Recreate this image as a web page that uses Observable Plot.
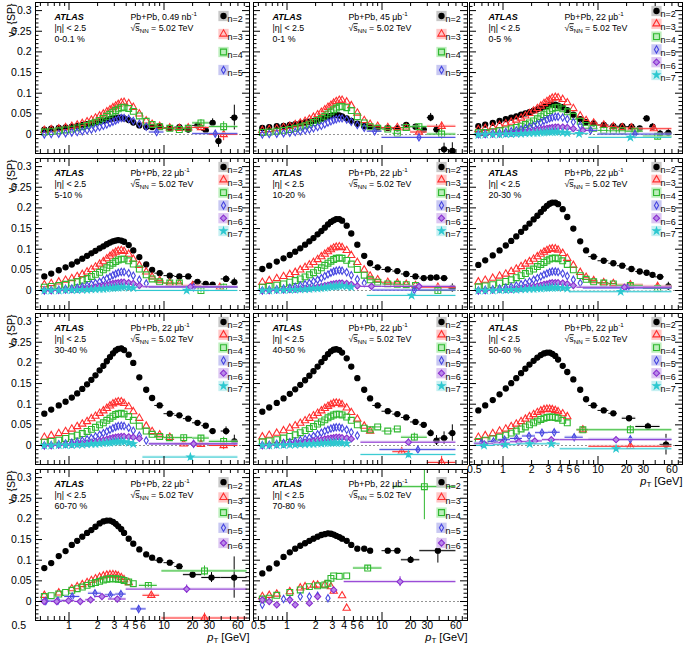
<!DOCTYPE html>
<html><head><meta charset="utf-8">
<script src="https://cdn.jsdelivr.net/npm/d3@7"></script>
<script src="https://cdn.jsdelivr.net/npm/@observablehq/plot@0.6"></script>
<style>
html,body{margin:0;padding:0;background:#fff;}
#chart{position:relative;width:685px;height:647px;font-family:"Liberation Sans",Arial,Helvetica,sans-serif;}
#chart svg{position:absolute;overflow:visible;}
</style></head><body><div id="chart"></div>
<script>
// ---------------- DATA ----------------
const ptBins = [0.55,0.65,0.78,0.92,1.07,1.22,1.38,1.55,1.72,1.9,2.1,2.3,2.5,2.7,2.9,3.1,3.3,3.55,3.8,4.25,4.75,5.5,6.5,7.5,9,11.5,14.5,18,22.5,27.5,32.5,37.5,45,55];
const ptEdges = [0.5,0.6,0.7,0.85,1.0,1.15,1.3,1.47,1.63,1.81,2.0,2.2,2.4,2.6,2.8,3.0,3.2,3.4,3.7,4.0,4.5,5.0,6.0,7.0,8.0,10,13,16,20,25,30,35,40,50,60];
const centralities = ["0-0.1 %","0-1 %","0-5 %","5-10 %","10-20 %","20-30 %","30-40 %","40-50 %","50-60 %","60-70 %","70-80 %"];
const lumis = ["Pb+Pb, 0.49 nb-1","Pb+Pb, 45 \u03bcb-1","Pb+Pb, 22 \u03bcb-1","Pb+Pb, 22 \u03bcb-1","Pb+Pb, 22 \u03bcb-1","Pb+Pb, 22 \u03bcb-1","Pb+Pb, 22 \u03bcb-1","Pb+Pb, 22 \u03bcb-1","Pb+Pb, 22 \u03bcb-1","Pb+Pb, 22 \u03bcb-1","Pb+Pb, 22 \u03bcb-1"];
const harmonicSets = [[2,3,4,5],[2,3,4,5],[2,3,4,5,6,7],[2,3,4,5,6,7],[2,3,4,5,6,7],[2,3,4,5,6,7],[2,3,4,5,6,7],[2,3,4,5,6,7],[2,3,4,5,6,7],[2,3,4,5,6],[2,3,4,5,6]];
const yMajor = [0,0.05,0.1,0.15,0.2,0.25,0.3];
const xMajor = [1,10];
const xMinor = [0.5,0.6,0.7,0.8,0.9,2,3,4,5,6,7,8,9,20,30,40,50,60,70];
const xLabels = [0.5,1,2,3,4,5,6,10,20,30,60];

// wide entries: [n, ptLow, ptHigh, value, error]
// 0-0.1 %
const A_v2 = [0.012,0.014,0.016,0.017,0.019,0.021,0.023,0.025,0.027,0.029,0.031,0.033,0.035,0.037,0.039,0.040,0.041,0.041,0.039,0.035,0.029,0.022,0.018,0.018,0.020,0.016,0.018,0.012,0.022,0.010,0.028,-0.016,null,0.041];
const A_e2 = [0.002,0.003,0.003,0.004,0.006,0.008,0.010,0.015,0,0.030];
const A_v3 = [0.010,0.012,0.014,0.017,0.020,0.023,0.027,0.031,0.035,0.040,0.045,0.050,0.055,0.060,0.065,0.069,0.073,0.077,0.078,0.075,0.066,0.050,0.033,0.025,0.020,0.016,0.015,0.016];
const A_v4 = [0.006,0.007,0.009,0.011,0.013,0.016,0.019,0.022,0.026,0.030,0.034,0.039,0.044,0.049,0.054,0.058,0.062,0.065,0.066,0.063,0.056,0.045,0.032,0.024,0.019,0.015,0.012,0.015];
const A_v5 = [0.000,0.001,0.002,0.003,0.005,0.006,0.008,0.010,0.012,0.015,0.018,0.021,0.024,0.028,0.031,0.034,0.037,0.040,0.040,0.038,0.033,0.026,0.019];
const A_wide = [[3,20,30,0.017,0.006],[3,30,60,0.000,0.015],[4,20,30,0.028,0.008],[4,30,60,0.019,0.012],[5,7,10,0.006,0.003],[5,20,60,0.002,0.008]];
// 0-1 %
const B_v2 = [0.016,0.018,0.020,0.021,0.023,0.025,0.027,0.029,0.031,0.033,0.036,0.038,0.041,0.043,0.045,0.047,0.047,0.046,0.044,0.039,0.033,0.026,0.020,0.017,0.016,0.016,0.015,0.023,0.019,0.012,0.041,0.012,-0.036,-0.040];
const B_e2 = [0.001,0.002,0.002,0.003,0.004,0.005,0.010,0.012,0.015,0.020];
const B_v3 = [0.010,0.012,0.014,0.017,0.020,0.024,0.028,0.032,0.037,0.042,0.048,0.054,0.060,0.066,0.071,0.076,0.080,0.083,0.083,0.079,0.070,0.052,0.034,0.025,0.020,0.017,0.017,0.016];
const B_v4 = [0.005,0.006,0.008,0.010,0.012,0.015,0.018,0.021,0.025,0.029,0.034,0.039,0.044,0.050,0.055,0.060,0.064,0.067,0.068,0.065,0.058,0.043,0.028,0.019,0.015,0.013,0.003,0.017];
const B_v5 = [0.000,0.001,0.002,0.003,0.004,0.006,0.008,0.010,0.012,0.015,0.018,0.021,0.025,0.029,0.032,0.035,0.037,0.039,0.039,0.036,0.031,0.023,0.016];
const B_wide = [[3,20,30,0.006,0.005],[3,30,60,0.020,0.010],[4,20,30,0.019,0.006],[4,30,60,0.001,0.012],[5,7,10,0.008,0.003],[5,10,60,-0.007,0.006]];
// 0-5 %
const C_v2 = [0.020,0.024,0.028,0.033,0.037,0.041,0.044,0.048,0.051,0.054,0.058,0.061,0.064,0.067,0.069,0.071,0.072,0.072,0.070,0.066,0.059,0.048,0.037,0.030,0.027,0.023,0.020,0.020,0.019,0.015,0.039,0.019,0.002,0.004];
const C_e2 = [0.001,0.001,0.002,0.002,0.003,0.004,0.006,0.007,0.008,0.010];
const C_v3 = [0.012,0.015,0.018,0.022,0.026,0.030,0.035,0.040,0.045,0.051,0.057,0.063,0.069,0.075,0.080,0.084,0.088,0.090,0.089,0.085,0.077,0.063,0.045,0.034,0.028,0.023,0.019,0.017,0.016];
const C_v4 = [0.004,0.005,0.007,0.009,0.011,0.014,0.017,0.020,0.024,0.028,0.033,0.038,0.043,0.048,0.053,0.058,0.062,0.065,0.066,0.062,0.055,0.044,0.032,0.022,0.015,0.010,0.009,0.009];
const C_v5 = [0.001,0.002,0.003,0.004,0.006,0.008,0.010,0.012,0.015,0.018,0.021,0.025,0.029,0.033,0.036,0.039,0.041,0.043,0.043,0.041,0.037,0.030,0.022];
const C_v6 = [0.000,0.000,0.001,0.001,0.002,0.003,0.004,0.005,0.006,0.008,0.009,0.011,0.012,0.014,0.015,0.016,0.017,0.018,0.018,0.018,0.017,0.014];
const C_v7 = [-0.001,0.000,0.000,0.000,0.001,0.001,0.002,0.002,0.003,0.003,0.004,0.004,0.005,0.005,0.006,0.006,0.006,0.006,0.006,0.005,0.004];
const C_wide = [[3,25,60,0.014,0.006],[4,20,30,0.008,0.004],[4,30,60,-0.004,0.008],[5,7,10,0.010,0.003],[5,10,60,0.001,0.005],[6,6,8,0.010,0.004],[7,5,8,0.002,0.003],[7,8,60,-0.007,0.006]];
// 5-10 %
const D_v2 = [0.034,0.041,0.049,0.056,0.063,0.070,0.077,0.084,0.090,0.096,0.102,0.107,0.112,0.116,0.119,0.121,0.122,0.121,0.118,0.110,0.097,0.081,0.063,0.050,0.042,0.036,0.034,0.034,0.021,0.016,0.014,null,0.028,0.020];
const D_e2 = [0.001,0.001,0.002,0.002,0.003,0.004,0.005,0,0.008,0.010];
const D_v3 = [0.014,0.017,0.021,0.025,0.029,0.034,0.039,0.045,0.051,0.057,0.064,0.070,0.077,0.083,0.089,0.093,0.096,0.097,0.095,0.088,0.076,0.061,0.045,0.033,0.024,0.018,0.016];
const D_v4 = [0.008,0.010,0.012,0.015,0.018,0.021,0.025,0.029,0.034,0.039,0.044,0.050,0.055,0.061,0.066,0.070,0.074,0.076,0.076,0.072,0.064,0.052,0.038,0.028,0.021,0.018,0.018];
const D_v5 = [0.000,0.001,0.002,0.004,0.005,0.007,0.009,0.012,0.015,0.018,0.021,0.025,0.029,0.033,0.037,0.040,0.043,0.045,0.045,0.042,0.036,0.026,0.017];
const D_v6 = [0.000,0.000,0.001,0.001,0.002,0.003,0.004,0.005,0.006,0.008,0.010,0.011,0.013,0.015,0.017,0.018,0.019,0.020,0.020,0.019,0.017,0.012];
const D_v7 = [0.000,0.000,0.000,0.001,0.001,0.001,0.002,0.002,0.003,0.003,0.004,0.004,0.005,0.006,0.006,0.007,0.007,0.008,0.008,0.007,0.006];
const D_wide = [[3,16,25,0.012,0.005],[3,25,60,0.008,0.006],[4,20,30,0.000,0.006],[4,30,60,0.008,0.008],[5,7,60,0.008,0.004],[6,6,60,0.009,0.004],[7,5,60,0.000,0.004]];
// 10-20 %
const E_v2 = [0.052,0.060,0.070,0.078,0.086,0.094,0.102,0.111,0.119,0.127,0.136,0.144,0.152,0.160,0.166,0.170,0.173,0.173,0.169,0.157,0.138,0.111,0.084,0.066,0.056,0.051,0.047,0.040,0.034,0.030,0.031,0.032,0.030,0.006];
const E_e2 = [0.001,0.001,0.002,0.002,0.002,0.003,0.004,0.005,0.006,0.010];
const E_v3 = [0.020,0.024,0.029,0.034,0.039,0.044,0.050,0.056,0.062,0.068,0.075,0.082,0.088,0.094,0.099,0.103,0.105,0.106,0.104,0.097,0.085,0.068,0.050,0.035,0.026,0.020,0.018,0.015,0.012];
const E_v4 = [0.008,0.010,0.013,0.016,0.020,0.024,0.028,0.033,0.038,0.043,0.049,0.055,0.061,0.066,0.071,0.075,0.078,0.079,0.078,0.073,0.064,0.051,0.037,0.026,0.020,0.016,0.015,0.014,0.012];
const E_v5 = [0.000,0.002,0.003,0.005,0.007,0.009,0.012,0.015,0.018,0.022,0.026,0.030,0.035,0.039,0.043,0.046,0.048,0.049,0.048,0.044,0.037,0.027,0.018];
const E_v6 = [0.000,0.000,0.001,0.001,0.002,0.003,0.004,0.005,0.006,0.007,0.009,0.010,0.012,0.013,0.015,0.016,0.017,0.018,0.018,0.017,0.015,0.011];
const E_v7 = [0.000,0.000,0.001,0.001,0.002,0.002,0.003,0.003,0.004,0.005,0.005,0.006,0.007,0.008,0.009,0.010,0.010,0.011,0.011,0.010,0.008];
const E_wide = [[3,25,60,0.008,0.006],[4,25,60,0.000,0.008],[5,8,60,0.001,0.004],[6,6,10,0.010,0.004],[6,10,60,0.010,0.006],[7,7,60,-0.012,0.006]];
// 20-30 %
const F_v2 = [0.062,0.073,0.085,0.097,0.109,0.120,0.131,0.142,0.152,0.162,0.172,0.181,0.190,0.198,0.205,0.210,0.213,0.213,0.209,0.197,0.178,0.150,0.119,0.097,0.082,0.072,0.066,0.060,0.052,0.046,0.043,0.038,0.033,0.010];
const F_e2 = [0.001,0.001,0.001,0.002,0.002,0.003,0.004,0.005,0.006,0.010];
const F_v3 = [0.021,0.025,0.030,0.035,0.040,0.046,0.052,0.058,0.064,0.070,0.076,0.082,0.088,0.093,0.097,0.100,0.101,0.101,0.098,0.090,0.078,0.061,0.044,0.032,0.024,0.019,0.017];
const F_v4 = [0.009,0.011,0.014,0.018,0.022,0.026,0.031,0.036,0.041,0.047,0.052,0.058,0.063,0.068,0.072,0.076,0.078,0.079,0.077,0.072,0.063,0.050,0.036,0.027,0.021,0.018,0.016];
const F_v5 = [0.000,0.002,0.003,0.005,0.007,0.009,0.012,0.015,0.018,0.022,0.026,0.030,0.034,0.038,0.041,0.044,0.046,0.046,0.045,0.041,0.035,0.026,0.018];
const F_v6 = [0.000,0.000,0.001,0.002,0.002,0.003,0.004,0.005,0.007,0.008,0.010,0.011,0.013,0.015,0.016,0.018,0.019,0.019,0.019,0.018,0.016,0.012];
const F_v7 = [0.000,0.000,0.000,0.001,0.001,0.002,0.002,0.003,0.003,0.004,0.004,0.005,0.005,0.006,0.006,0.007,0.007,0.007,0.007,0.006,0.005];
const F_wide = [[3,16,30,0.014,0.005],[3,30,60,0.010,0.008],[4,16,30,0.012,0.006],[4,30,60,0.005,0.008],[5,7,60,0.006,0.004],[6,6,60,0.008,0.005],[7,5,60,-0.003,0.005]];
// 30-40 %
const G_v2 = [0.077,0.087,0.097,0.106,0.116,0.126,0.137,0.148,0.159,0.170,0.182,0.193,0.204,0.214,0.223,0.230,0.234,0.235,0.231,0.220,0.200,0.165,0.135,0.115,0.097,0.077,0.073,0.065,0.055,0.048,0.035,null,0.035,0.010];
const G_e2 = [0.001,0.001,0.002,0.002,0.003,0.004,0.005,0,0.010,0.015];
const G_v3 = [0.020,0.024,0.029,0.034,0.040,0.046,0.052,0.058,0.065,0.071,0.078,0.084,0.090,0.096,0.101,0.104,0.106,0.106,0.102,0.094,0.082,0.066,0.047,0.034,0.026,0.020];
const G_v4 = [0.008,0.010,0.013,0.017,0.021,0.025,0.029,0.034,0.039,0.044,0.050,0.055,0.061,0.066,0.071,0.075,0.077,0.078,0.076,0.070,0.061,0.047,0.035,0.027,0.022];
const G_v5 = [0.000,0.001,0.003,0.005,0.007,0.009,0.012,0.015,0.018,0.022,0.026,0.030,0.034,0.038,0.042,0.045,0.047,0.048,0.047,0.043,0.036,0.024,0.012];
const G_v6 = [0.000,0.000,0.001,0.002,0.003,0.004,0.005,0.006,0.008,0.009,0.011,0.013,0.015,0.017,0.019,0.020,0.021,0.022,0.022,0.021,0.020,0.017];
const G_v7 = [0.000,0.000,0.001,0.001,0.001,0.002,0.002,0.003,0.004,0.004,0.005,0.006,0.007,0.007,0.008,0.009,0.009,0.010,0.009,0.007,0.004];
const G_wide = [[3,13,20,0.004,0.005],[3,20,30,0.003,0.006],[3,30,60,0.000,0.010],[4,10,13,0.019,0.004],[4,13,20,0.019,0.005],[4,20,30,0.018,0.006],[4,30,60,0.010,0.010],[5,7,60,0.004,0.005],[6,7,60,0.004,0.006],[7,6,60,-0.028,0.008]];
// 40-50 %
const H_v2 = [0.082,0.092,0.103,0.114,0.125,0.136,0.147,0.158,0.169,0.180,0.191,0.202,0.212,0.221,0.228,0.232,0.233,0.231,0.225,0.211,0.191,0.163,0.135,0.114,0.097,0.083,0.076,0.068,0.057,0.050,0.030,0.012,0.018,0.030];
const H_e2 = [0.001,0.002,0.002,0.003,0.004,0.005,0.008,0.012,0.015,0.020];
const H_v3 = [0.021,0.025,0.030,0.036,0.042,0.048,0.054,0.060,0.066,0.072,0.078,0.084,0.090,0.095,0.099,0.102,0.103,0.102,0.099,0.091,0.080,0.064,0.047,0.035];
const H_v4 = [0.009,0.011,0.014,0.018,0.022,0.026,0.031,0.036,0.041,0.046,0.052,0.057,0.062,0.067,0.071,0.074,0.076,0.076,0.074,0.069,0.061,0.050,0.042,0.038,0.045,0.035,0.040];
const H_v5 = [0.001,0.002,0.004,0.006,0.008,0.010,0.013,0.016,0.019,0.023,0.027,0.031,0.035,0.038,0.041,0.043,0.044,0.044,0.042,0.038,0.032,0.024];
const H_v6 = [0.000,0.001,0.002,0.003,0.004,0.005,0.006,0.008,0.009,0.011,0.013,0.014,0.016,0.017,0.018,0.019,0.020,0.020,0.019,0.018,0.016];
const H_v7 = [0.000,0.000,0.001,0.001,0.002,0.002,0.003,0.003,0.004,0.004,0.005,0.005,0.006,0.006,0.007,0.007,0.007,0.007,0.006,0.005];
const H_wide = [[3,13,20,-0.015,0.008],[3,30,60,-0.041,0.015],[4,16,30,0.020,0.010],[5,9.5,60,-0.010,0.006],[6,6,60,0.008,0.008],[7,6,60,-0.022,0.008]];
// 50-60 %
const I_v2 = [0.085,0.097,0.110,0.124,0.138,0.151,0.163,0.175,0.186,0.196,0.205,0.213,0.219,0.223,0.225,0.225,0.222,0.217,0.208,0.193,0.178,0.160,0.135,0.112,0.097,0.085,0.078];
const I_v3 = [0.020,0.024,0.029,0.035,0.040,0.046,0.052,0.058,0.064,0.070,0.075,0.080,0.084,0.087,0.088,0.088,0.087,0.085,0.082,0.077,0.070];
const I_v4 = [0.010,0.013,0.016,0.020,0.025,0.030,0.035,0.040,0.045,0.050,0.055,0.059,0.063,0.066,0.068,0.069,0.069,0.068,0.066,0.061,0.055];
const I_wide = [[2,18,25,0.066,0.004],[2,25,45,0.046,0.008],[2,45,60,0.002,0.025],
  [3,6,8,0.038,0.005],[3,8,60,-0.002,0.006],[4,6,8,0.038,0.005],[4,8,60,0.038,0.010],
  [5,0.5,0.7,0.006,0.003],[5,0.7,0.9,0.010,0.003],[5,0.9,1.2,0.014,0.003],[5,1.2,1.6,0.017,0.003],[5,1.6,2.2,0.023,0.003],[5,2.2,3.0,0.031,0.004],[5,3.0,4.0,0.032,0.004],[5,4.5,7,0.020,0.005],[5,8,60,0.015,0.006],
  [6,0.5,0.8,0.004,0.003],[6,0.8,1.2,0.006,0.003],[6,1.2,1.8,0.009,0.003],[6,1.8,2.6,0.011,0.004],[6,2.6,4,0.014,0.004],[6,4,60,0.014,0.006],
  [7,0.5,0.8,0.000,0.003],[7,0.8,1.4,0.002,0.003],[7,1.4,2.6,0.004,0.003],[7,2.6,4,0.004,0.004],[7,4,60,-0.008,0.006]];
// 60-70 %
const J_v2 = [0.081,0.093,0.110,0.122,0.137,0.147,0.157,0.166,0.173,0.181,0.189,0.194,0.196,0.196,0.193,0.188,0.182,0.175,0.166,0.152,0.140,0.126,0.114,0.106,0.100,0.094,0.085];
const J_v3 = [0.015,null,0.021,null,0.031,0.036,0.041,0.046,0.051,0.055,0.059,0.062,0.064,0.065,0.065,0.064,0.062,0.058,0.053,0.046];
const J_v4 = [0.012,0.014,0.018,0.022,0.027,0.031,0.035,0.039,0.043,0.046,0.049,0.052,0.054,0.055,0.055,0.055,0.054,0.053,0.051,0.047,0.043];
const J_wide = [[2,16,25,0.065,0.005],[2,25,40,0.058,0.012],[2,40,75,0.058,0.050],
  [3,6,9,0.015,0.004],[3,9.5,75,-0.040,0.012],[4,5.5,8.5,0.039,0.005],[4,9.5,75,0.074,0.012],
  [5,0.5,0.65,0.001,0.003],[5,0.65,0.9,0.002,0.003],[5,0.9,1.3,0.012,0.004],[5,1.6,2.2,0.020,0.004],[5,2.4,3.1,0.016,0.004],[5,3.1,4.0,0.018,0.005],[5,4.5,6.5,-0.018,0.006],
  [6,0.5,0.6,0.000,0.003],[6,0.65,0.85,0.000,0.003],[6,0.85,1.15,0.002,0.003],[6,1.15,1.5,0.000,0.003],[6,1.5,1.9,0.004,0.004],[6,1.9,2.6,0.012,0.004],[6,2.6,4.0,0.006,0.005],[6,4.0,75,0.030,0.010]];
// 70-80 %
const K_v2 = [0.068,0.080,0.092,0.108,0.119,0.128,0.135,0.141,0.147,0.152,0.157,0.161,0.163,0.165,0.164,0.162,0.159,0.156,0.152,0.147,0.137,0.128,0.128,0.123,null,0.123,0.123];
const K_v3 = [0.012,0.015,0.018,null,0.024,null,0.033,0.036,null,0.040,0.040,null,0.040,null,0.036,0.025,null,null,0.014,-0.016];
const K_v4 = [0.006,0.008,0.015,null,0.022,null,0.028,null,0.036,null,0.038,null,0.040,0.044,0.056,0.062,null,0.061,null,0.062];
const K_v5 = [-0.008,null,null,0.006,0.004,null,0.012,null,0.012,null,0.014,null,null,0.008];
const K_v6 = [0.004,0.000,-0.008,null,0.004,-0.008,null,null,-0.004,null,0.012,null,null,null,null,0.028];
const K_wide = [[2,16,25,0.101,0.008],[2,25,60,0.123,0.030],[4,5,10,0.081,0.006],[4,13,60,0.278,0.08],[6,4,60,0.048,0.012]];

const seriesByPanel = [
  {2:A_v2,3:A_v3,4:A_v4,5:A_v5},
  {2:B_v2,3:B_v3,4:B_v4,5:B_v5},
  {2:C_v2,3:C_v3,4:C_v4,5:C_v5,6:C_v6,7:C_v7},
  {2:D_v2,3:D_v3,4:D_v4,5:D_v5,6:D_v6,7:D_v7},
  {2:E_v2,3:E_v3,4:E_v4,5:E_v5,6:E_v6,7:E_v7},
  {2:F_v2,3:F_v3,4:F_v4,5:F_v5,6:F_v6,7:F_v7},
  {2:G_v2,3:G_v3,4:G_v4,5:G_v5,6:G_v6,7:G_v7},
  {2:H_v2,3:H_v3,4:H_v4,5:H_v5,6:H_v6,7:H_v7},
  {2:I_v2,3:I_v3,4:I_v4},
  {2:J_v2,3:J_v3,4:J_v4},
  {2:K_v2,3:K_v3,4:K_v4,5:K_v5,6:K_v6}
];
const n2Errors = [A_e2,B_e2,C_e2,D_e2,E_e2,F_e2,G_e2,H_e2,null,null,null];
const wideByPanel = [A_wide,B_wide,C_wide,D_wide,E_wide,F_wide,G_wide,H_wide,I_wide,J_wide,K_wide];

// ---------------- LAYOUT / STYLE ----------------
const FONT = "Liberation Sans, Arial, Helvetica, sans-serif";
const layout = [[0,0],[1,0],[2,0],[0,1],[1,1],[2,1],[0,2],[1,2],[2,2],[0,3],[1,3]];
const colX = [35,253,469], colW = [214,214,213];
const rowY = [2,158,313,469], PH = 151;
const yDomain = [-0.046, 0.3196];
const xLabelPanels = [8,9,10];
const STY = {
  2:{color:"#000000", light:"#c8c8c8", symbol:"circle", fill:"#000000", r:2.6},
  3:{color:"#ff2f2f", light:"#ffc6c6", symbol:"triangle", fill:"none", r:2.7},
  4:{color:"#2fb82f", light:"#bdeebd", symbol:"square", fill:"none", r:3.3},
  5:{color:"#4646e0", light:"#c8c8f2", symbol:"diamond", fill:"none", r:2.2},
  6:{color:"#8a2fd0", light:"#dcc6f2", symbol:"diamond2", fill:"#b88ae8", r:2.8},
  7:{color:"#2ec8d0", light:"#c6f0f2", symbol:"star", fill:"#2ec8d0", r:2.1}
};
const legendPlacement = {4:[13.5,18], 5:[12.7,15.2], 6:[8.5,12.8]};

function finePoints(vals, errs) {
  const out = [];
  (vals || []).forEach((v, i) => {
    if (v == null || i >= ptBins.length) return;
    const e = errs && i >= 24 ? (errs[i - 24] || 0) : 0;
    out.push({pt: ptBins[i], v, lo: ptEdges[i], hi: ptEdges[i + 1], e, bar: i >= 23});
  });
  return out;
}
function widePoints(list, n) {
  return list.filter(d => d[0] === n).map(d => ({pt: Math.sqrt(d[1] * d[2]), lo: d[1], hi: d[2], v: d[3], e: d[4], bar: true}));
}

function richText(svg) {
  svg.querySelectorAll("text").forEach(t => {
    const s = t.textContent;
    if (s === "\u221AsNN = 5.02 TeV") {
      t.innerHTML = '\u221A<tspan style="text-decoration:overline">s</tspan><tspan font-size="6.2" dy="2.2">NN</tspan><tspan dy="-2.2"> = 5.02 TeV</tspan>';
    } else if (/b-1$/.test(s)) {
      t.innerHTML = s.slice(0, -2) + '<tspan font-size="6.2" dy="-3.5">-1</tspan>';
    } else if (s === "vn {SP}") {
      t.innerHTML = 'v<tspan font-size="7.5" dy="2.5">n</tspan><tspan dy="-2.5"> {SP}</tspan>';
    } else if (s === "pT [GeV]") {
      t.innerHTML = '<tspan font-style="italic">p</tspan><tspan font-size="8" dy="2.5">T</tspan><tspan dy="-2.5"> [GeV]</tspan>';
    }
  });
}

const chart = document.getElementById("chart");
const yMinor = d3.range(-4, 32).filter(i => i % 5 !== 0).map(i => i / 100);

centralities.forEach((cent, k) => {
  const [c, r] = layout[k];
  const w = colW[c], h = PH;
  const xDomain = [Math.pow(10, -33.5 / 95), Math.pow(10, (w - 33.5) / 95)];
  const ns = harmonicSets[k];
  const marks = [];
  marks.push(Plot.ruleY([0], {y: d => d, stroke: "#777", strokeWidth: 0.8, strokeDasharray: "2,2"}));
  for (const n of ns) {
    const st = STY[n];
    const fine = finePoints(seriesByPanel[k][n], n === 2 ? n2Errors[k] : null);
    const wide = widePoints(wideByPanel[k], n);
    const all = fine.concat(wide);
    marks.push(Plot.rect(wide, {x1: "lo", x2: "hi", y1: d => d.v - 0.003, y2: d => d.v + 0.003, fill: st.light, fillOpacity: 0.6, clip: true}));
    marks.push(Plot.ruleY(all.filter(d => d.bar), {y: "v", x1: "lo", x2: "hi", stroke: st.color, strokeWidth: 1, clip: true}));
    marks.push(Plot.ruleX(all.filter(d => d.e > 0), {x: "pt", y1: d => d.v - d.e, y2: d => d.v + d.e, stroke: st.color, strokeWidth: 1, clip: true}));
    marks.push(Plot.dot(all, {x: "pt", y: "v", symbol: st.symbol, r: st.r, fill: st.fill, stroke: st.color, strokeWidth: 1.1, clip: true}));
  }
  // legend
  const [start, sp] = legendPlacement[ns.length];
  ns.forEach((n, i) => {
    const st = STY[n];
    const dy = start + i * sp;
    marks.push(Plot.dot([n], {frameAnchor: "top-right", dx: -26, dy, symbol: "square", r: 5.8, fill: st.light, stroke: "none"}));
    marks.push(Plot.dot([n], {frameAnchor: "top-right", dx: -26, dy, symbol: st.symbol, r: st.r, fill: st.fill, stroke: st.color, strokeWidth: 1.1}));
    marks.push(Plot.text([n], {frameAnchor: "top-right", dx: -22, dy, text: d => "n=" + d, textAnchor: "start", fontSize: 9, fontFamily: FONT, fill: "#000"}));
  });
  // panel texts
  const txt = (s, dx, dy, extra = {}) => Plot.text([s], {frameAnchor: "top-left", dx, dy, text: d => d, textAnchor: "start", fontSize: 8.8, fontFamily: FONT, fill: "#000", ...extra});
  marks.push(txt("ATLAS", 19, 11, {fontWeight: "bold", fontStyle: "italic", fontSize: 9}));
  marks.push(txt("|\u03b7| < 2.5", 19, 22));
  marks.push(txt(cent, 19, 33));
  marks.push(txt(lumis[k], 95, 11));
  marks.push(txt("\u221AsNN = 5.02 TeV", 95, 22.5));
  // ticks
  marks.push(Plot.tickY(yMajor, {y: d => d, insetRight: w - 7, stroke: "#000"}));
  marks.push(Plot.tickY(yMajor, {y: d => d, insetLeft: w - 7, stroke: "#000"}));
  marks.push(Plot.tickY(yMinor, {y: d => d, insetRight: w - 3.5, stroke: "#000"}));
  marks.push(Plot.tickY(yMinor, {y: d => d, insetLeft: w - 3.5, stroke: "#000"}));
  marks.push(Plot.tickX(xMajor, {x: d => d, insetTop: h - 8, stroke: "#000"}));
  marks.push(Plot.tickX(xMajor, {x: d => d, insetBottom: h - 8, stroke: "#000"}));
  marks.push(Plot.tickX(xMinor, {x: d => d, insetTop: h - 4, stroke: "#000"}));
  marks.push(Plot.tickX(xMinor, {x: d => d, insetBottom: h - 4, stroke: "#000"}));
  marks.push(Plot.frame({stroke: "#000", strokeWidth: 1}));
  if (c === 0) {
    marks.push(Plot.text(yMajor, {y: d => d, frameAnchor: "left", dx: -4, text: d => String(d), textAnchor: "end", fontSize: 10.5, fontFamily: FONT, fill: "#000"}));
    marks.push(Plot.text(["vn {SP}"], {frameAnchor: "top-left", dx: -28, dy: 1, rotate: -90, text: d => d, textAnchor: "end", fontSize: 10.5, fontFamily: FONT, fill: "#000"}));
  }
  if (xLabelPanels.includes(k)) {
    const labs = c === 0 ? xLabels.slice(1) : xLabels;
    marks.push(Plot.text(labs, {x: d => d, frameAnchor: "bottom", dy: 8, text: d => String(d), fontSize: 10.5, fontFamily: FONT, fill: "#000"}));
    if (c === 0) {
      // the lowest label sits left of the frame in the reference
      marks.push(Plot.text([xLabels[0]], {frameAnchor: "bottom-left", dx: -24, dy: 8, text: d => String(d), fontSize: 10.5, fontFamily: FONT, fill: "#000"}));
    }
    marks.push(Plot.text(["pT [GeV]"], {frameAnchor: "bottom-right", dy: 20, text: d => d, textAnchor: "end", fontSize: 11, fontFamily: FONT, fill: "#000"}));
  }
  const svg = Plot.plot({
    width: w, height: h,
    marginTop: 0, marginRight: 0, marginBottom: 0, marginLeft: 0,
    x: {type: "log", domain: xDomain, axis: null},
    y: {domain: yDomain, axis: null},
    style: {overflow: "visible", background: "none", fontFamily: FONT},
    marks
  });
  svg.style.left = colX[c] + "px";
  svg.style.top = rowY[r] + "px";
  svg.style.position = "absolute";
  richText(svg);
  chart.appendChild(svg);
});
</script></body></html>
